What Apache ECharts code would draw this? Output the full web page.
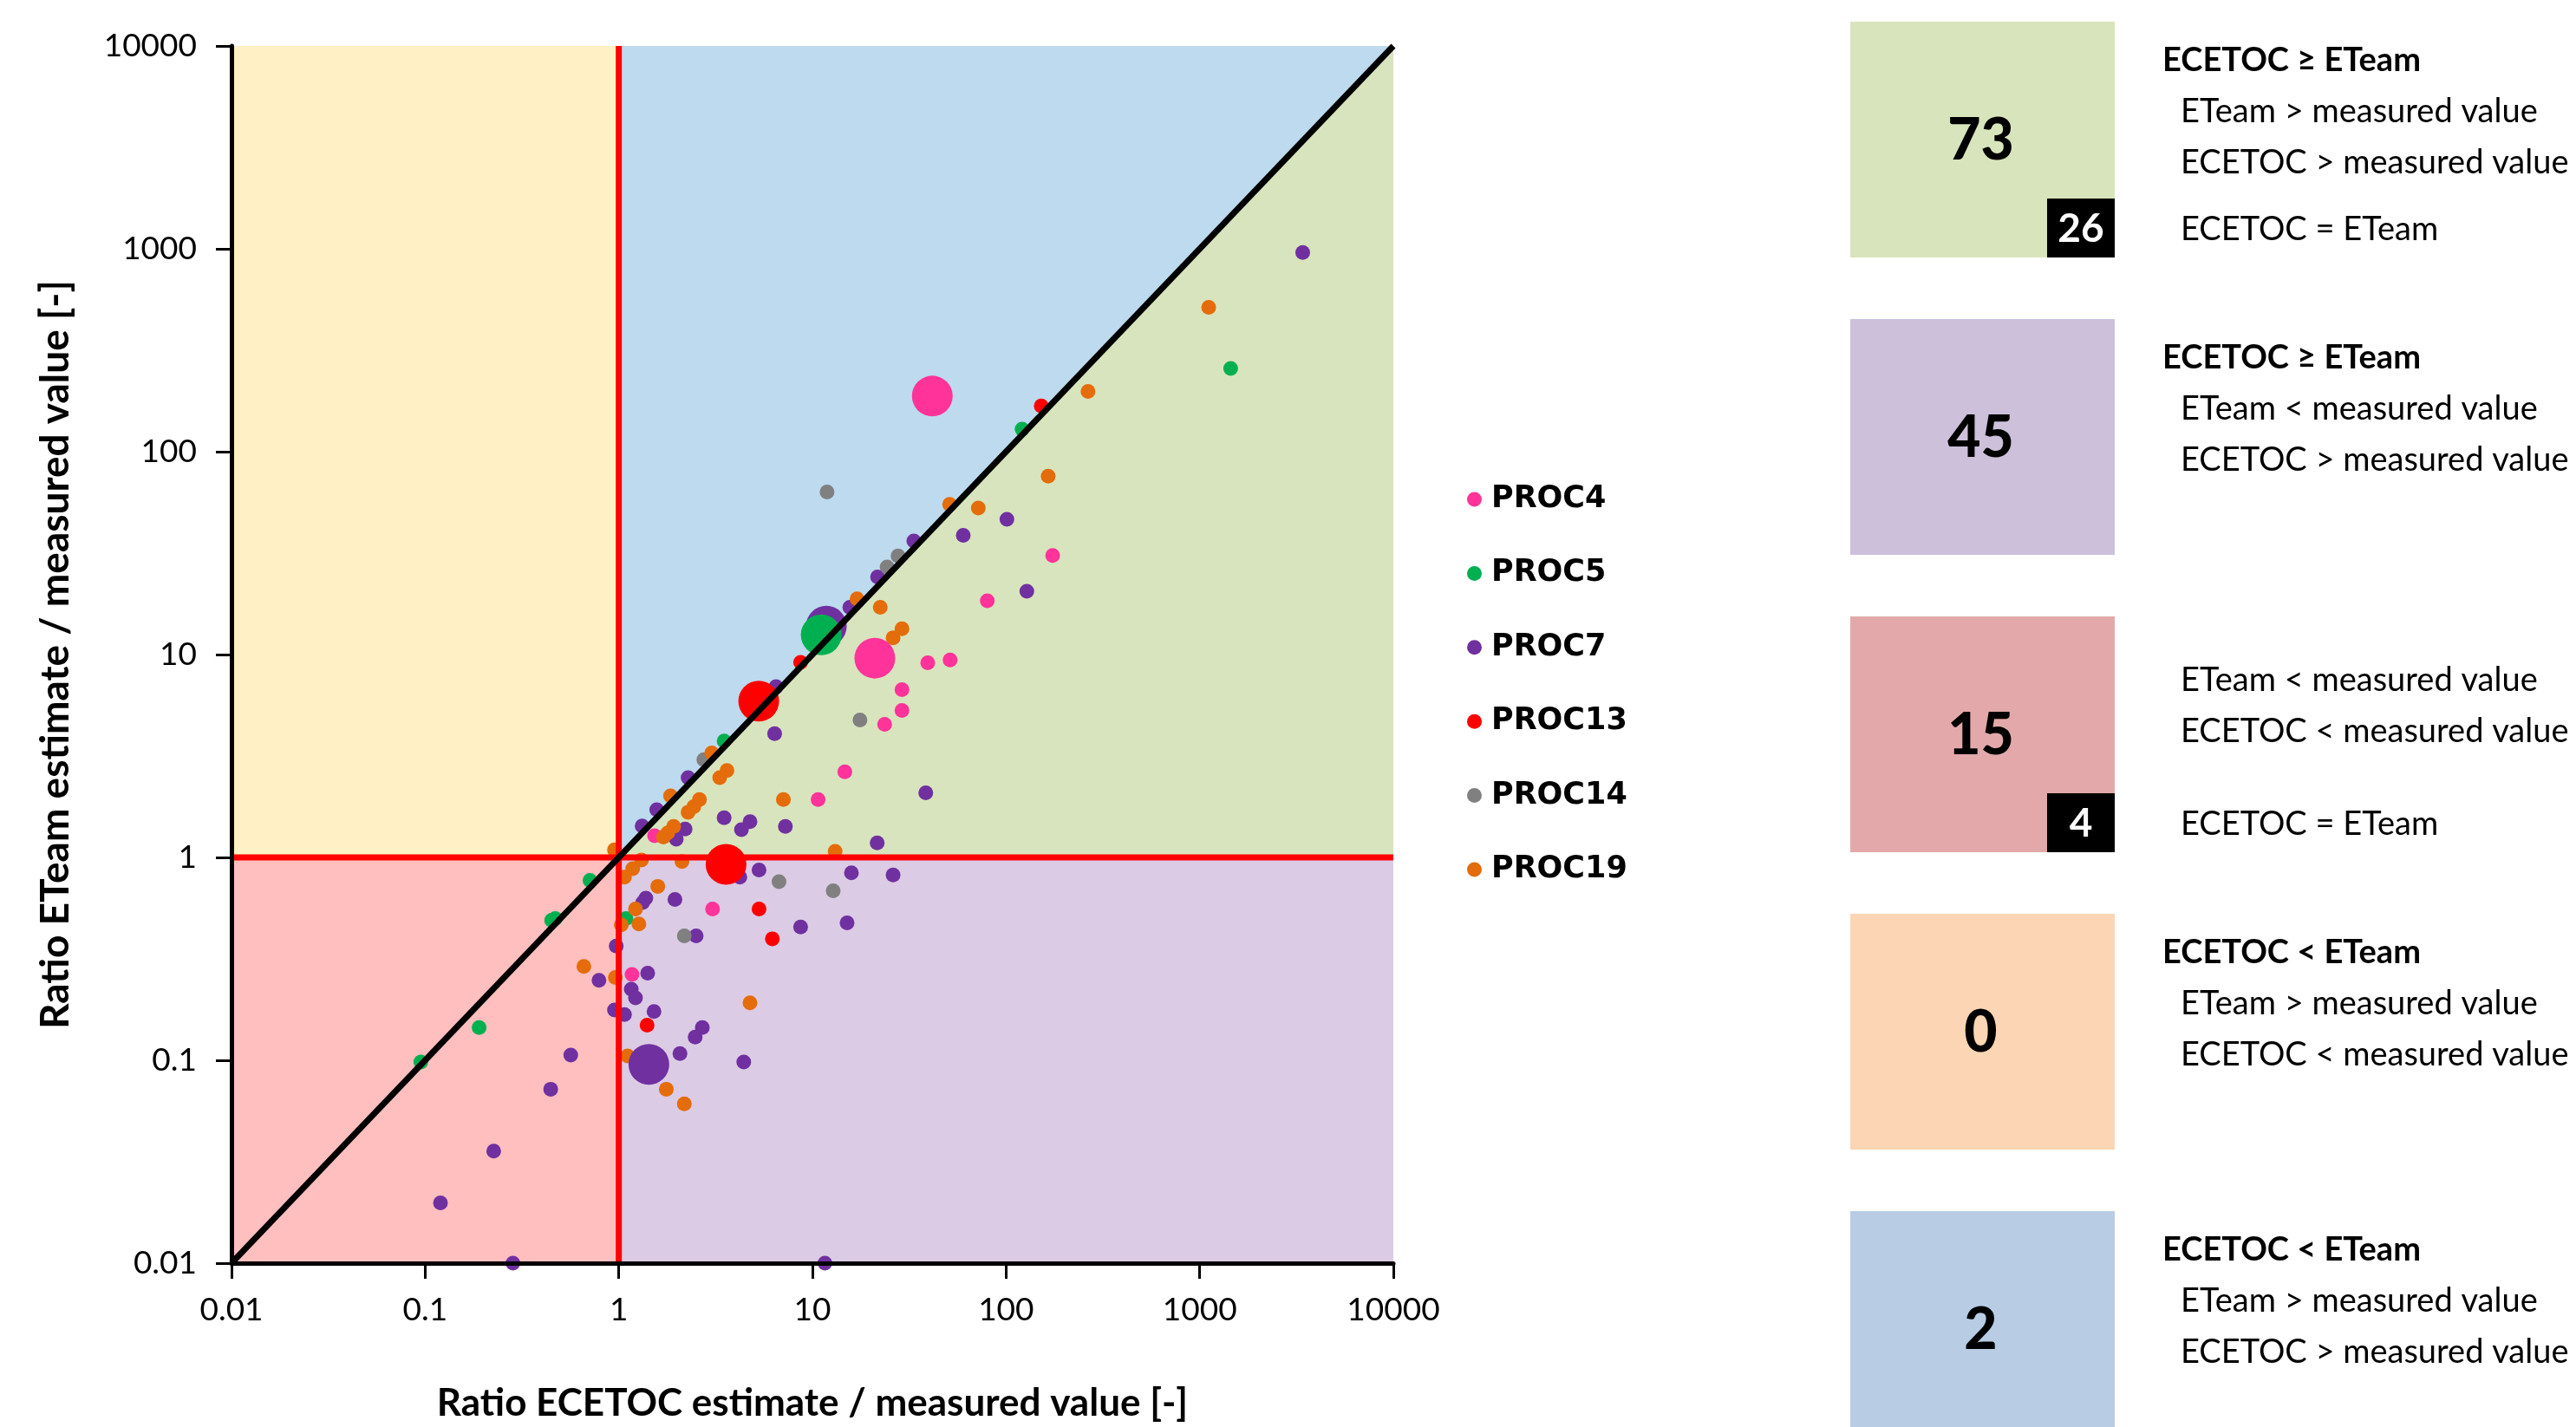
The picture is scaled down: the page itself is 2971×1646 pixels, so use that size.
<!DOCTYPE html>
<html><head><meta charset="utf-8">
<script src="https://cdn.jsdelivr.net/npm/echarts@6/dist/echarts.min.js"></script>
<style>html,body{margin:0;padding:0;background:#fff}#c{width:2971px;height:1646px}</style>
</head><body><div id="c"></div>
<script>
// ---------------- DATA ----------------
const seriesNames = ['PROC4', 'PROC5', 'PROC7', 'PROC13', 'PROC14', 'PROC19'];

// [ECETOC ratio, ETeam ratio]
const proc4 = [[3.05,0.557],[1.17,0.265],[1.53,1.28],[10.7,1.93],[14.7,2.64],[23.6,4.53],[29.0,5.30],[29.0,6.71],
  [39.4,9.1],[51.4,9.4],[80,18.4],[174,30.8]];
const proc5 = [[0.095,0.098],[0.19,0.145],[0.45,0.49],[0.47,0.50],[0.71,0.77],[1.09,0.50],[3.50,3.75],[121,129],[1445,257]];
const proc7 = [[1.38,0.63],[1.33,0.60],[1.95,0.62],[2.51,0.41],[0.97,0.366],[0.79,0.248],[1.41,0.269],[1.16,0.224],
  [1.22,0.203],[0.95,0.177],[1.07,0.168],[1.52,0.174],[2.70,0.145],[2.48,0.130],[0.565,0.106],[2.07,0.108],
  [0.445,0.072],[0.226,0.0357],[0.12,0.0198],[0.284,0.01],[4.22,0.80],[5.30,0.867],[21.6,1.18],[15.9,0.84],
  [26.1,0.82],[8.69,0.454],[15.1,0.476],[4.42,0.098],[11.6,0.01],[15.6,17.1],[6.49,6.94],[6.38,4.07],
  [2.28,2.47],[1.57,1.72],[1.32,1.43],[2.20,1.38],[1.98,1.23],[3.50,1.57],[4.76,1.50],[4.30,1.37],[7.25,1.42],
  [128,20.5],[38.5,2.08],[3404,959],[101,46.4],[60.1,38.7],[33.4,36.3],[21.7,24.1]];
const proc13 = [[1.40,0.149],[5.30,0.557],[6.21,0.397],[8.69,9.16],[152,168]];
const proc14 = [[2.18,0.41],[6.72,0.76],[12.8,0.684],[17.6,4.76],[2.75,3.03],[11.9,63.3],[27.7,30.6],[24.3,27.0]];
const proc19 = [[1.07,0.80],[1.18,0.88],[1.31,0.97],[1.59,0.72],[2.12,0.955],[1.22,0.557],[1.27,0.47],[1.03,0.465],
  [0.66,0.29],[0.96,0.256],[1.11,0.105],[1.76,0.072],[2.18,0.061],[4.76,0.192],[13.1,1.07],[17.0,18.8],[22.4,17.1],
  [3.02,3.27],[3.62,2.68],[3.32,2.47],[1.85,2.01],[2.61,1.93],[2.44,1.78],[2.28,1.67],[1.92,1.42],[1.79,1.32],
  [1.70,1.26],[7.08,1.93],[29.0,13.4],[26.1,12.1],[1113,515],[265,198],[165,75.8],[51.1,55.0],[71.9,52.8],[0.95,1.09]];

// large markers (summary points)
const proc4Big = [[41.6,188],[21,9.6]];
const proc5Big = [[11.1,12.5]];
const proc7Big = [[11.8,13.8],[1.43,0.0955]];
const proc13Big = [[5.28,5.89],[3.58,0.925]];

const axisTicks = [0.01, 0.1, 1, 10, 100, 1000, 10000];

// background regions (vertices in data units)
const regionPolygons = [
  [[0.01,1],[1,1],[1,10000],[0.01,10000]],
  [[1,1],[1,10000],[10000,10000]],
  [[1,1],[10000,10000],[10000,1]],
  [[0.01,0.01],[1,0.01],[1,1],[0.01,1]],
  [[1,0.01],[10000,0.01],[10000,1],[1,1]]
];
const diagonalLine = [[0.01,0.01],[10000,10000]];
const verticalLine = [[1,0.01],[1,10000]];
const horizontalLine = [[0.01,1],[10000,1]];

// right panel
const boxCounts = [73, 45, 15, 0, 2];
const boxEqualCounts = [26, null, 4, null, null];
const boxTitles = ['ECETOC \u2265 ETeam', 'ECETOC \u2265 ETeam', '', 'ECETOC < ETeam', 'ECETOC < ETeam'];
const boxLines = [
  ['ETeam > measured value', 'ECETOC > measured value'],
  ['ETeam < measured value', 'ECETOC > measured value'],
  ['ETeam < measured value', 'ECETOC < measured value'],
  ['ETeam > measured value', 'ECETOC < measured value'],
  ['ETeam > measured value', 'ECETOC > measured value']
];
const equalLabel = 'ECETOC = ETeam';

// ---------------- STYLE ----------------
const colors = ['#FF3399', '#00B050', '#7030A0', '#FF0000', '#808080', '#E46C0A'];
const regionColors = ['#FFF0C6', '#BDDAEE', '#D8E4BD', '#FFBFBF', '#DBCBE5'];
const boxColors = ['#D8E4BC', '#CCC0DA', '#E3A9AA', '#FCD5B4', '#B8CCE4'];
const FONT = 'Lato, "Open Sans", sans-serif';

const chart = echarts.init(document.getElementById('c'), null, {renderer: 'canvas'});

function fmtTick(v) {
  const e = Math.round(Math.log10(v));
  return e < 0 ? Math.pow(10, e).toFixed(-e) : String(Math.pow(10, e));
}

const smallData = [proc4, proc5, proc7, proc13, proc14, proc19];
const bigData = [proc4Big, proc5Big, proc7Big, proc13Big];
const bigColorIdx = [0, 1, 2, 3];
const bigOrder = [0, 2, 1, 3];

const series = [];
series.push({
  type: 'custom', name: 'regions', silent: true, z: 1,
  data: regionPolygons.map(p => p[0]),
  renderItem: function (params, api) {
    const pts = regionPolygons[params.dataIndex].map(pt => api.coord(pt));
    return {type: 'polygon', shape: {points: pts}, style: {fill: regionColors[params.dataIndex]}};
  }
});
smallData.forEach((d, i) => {
  series.push({
    type: 'scatter', name: seriesNames[i], data: d, symbol: 'circle', symbolSize: 17, z: 3,
    itemStyle: {color: colors[i], opacity: 1}
  });
});
bigOrder.forEach(k => {
  series.push({
    type: 'scatter', name: seriesNames[bigColorIdx[k]] + ' ', data: bigData[k], symbol: 'circle', symbolSize: 47, z: 4,
    itemStyle: {color: colors[bigColorIdx[k]], opacity: 1}
  });
});
series.push({type: 'line', name: 'x=1', data: verticalLine, symbol: 'none', z: 5, silent: true,
  lineStyle: {color: '#FF0000', width: 7}});
series.push({type: 'line', name: 'y=1', data: horizontalLine, symbol: 'none', z: 5, silent: true,
  lineStyle: {color: '#FF0000', width: 7}});
series.push({type: 'line', name: 'diag', data: diagonalLine, symbol: 'none', z: 6, silent: true,
  lineStyle: {color: '#000000', width: 7}});

// right panel graphics
const graphics = [];
const boxLeft = 2134, boxW = 305, boxH = 272, boxTop0 = 25, boxStep = 343;
const TXT = 38;
boxCounts.forEach((n, i) => {
  const top = boxTop0 + i * boxStep;
  graphics.push({type: 'rect', shape: {x: boxLeft, y: top, width: boxW, height: boxH}, style: {fill: boxColors[i]}});
  graphics.push({type: 'text', style: {text: String(n), x: boxLeft + boxW / 2 - 2, y: top + boxH / 2 + 2,
    font: '900 66px ' + FONT, fill: '#000', align: 'center', verticalAlign: 'middle', textAlign: 'center', textVerticalAlign: 'middle'}});
  if (boxEqualCounts[i] != null) {
    graphics.push({type: 'rect', shape: {x: boxLeft + boxW - 78, y: top + boxH - 68, width: 78, height: 68}, style: {fill: '#000'}});
    graphics.push({type: 'text', style: {text: String(boxEqualCounts[i]), x: boxLeft + boxW - 39, y: top + boxH - 33,
      font: 'bold 46px ' + FONT, fill: '#fff', align: 'center', verticalAlign: 'middle', textAlign: 'center', textVerticalAlign: 'middle'}});
    graphics.push({type: 'text', style: {text: equalLabel, x: 2515, y: top + 240,
      font: TXT + 'px ' + FONT, fill: '#000', align: 'left', verticalAlign: 'middle', textAlign: 'left', textVerticalAlign: 'middle'}});
  }
  const hasTitle = boxTitles[i] !== '';
  if (hasTitle) {
    graphics.push({type: 'text', style: {text: boxTitles[i], x: 2494, y: top + 45,
      font: 'bold 38px ' + FONT, fill: '#000', align: 'left', verticalAlign: 'middle', textAlign: 'left', textVerticalAlign: 'middle'}});
  }
  const l0 = hasTitle ? 104 : 74;
  boxLines[i].forEach((t, j) => {
    graphics.push({type: 'text', style: {text: t, x: 2515, y: top + l0 + j * 59,
      font: TXT + 'px ' + FONT, fill: '#000', align: 'left', verticalAlign: 'middle', textAlign: 'left', textVerticalAlign: 'middle'}});
  });
});

const axisCommon = {
  type: 'log', logBase: 10, min: 0.01, max: 10000, z: 10,
  splitLine: {show: false},
  axisLine: {show: true, onZero: false, lineStyle: {color: '#000', width: 5}},
  axisTick: {show: true, inside: false, length: 18, lineStyle: {color: '#000', width: 3}},
  minorTick: {show: false},
  nameLocation: 'middle'
};

chart.setOption({
  animation: false,
  backgroundColor: '#ffffff',
  grid: {left: 267, right: 1364, top: 53, bottom: 187, containLabel: false},
  legend: {
    data: seriesNames, orient: 'vertical', left: 1687, top: 551, icon: 'circle',
    itemWidth: 17, itemHeight: 17, itemGap: 45.4, selectedMode: false,
    textStyle: {fontFamily: '"DejaVu Sans", sans-serif', fontWeight: 'bold', fontSize: 35, color: '#000', lineHeight: 40, padding: [0, 0, 0, 6]}
  },
  xAxis: Object.assign({}, axisCommon, {
    name: 'Ratio ECETOC estimate / measured value [-]', nameGap: 140,
    nameTextStyle: {fontFamily: FONT, fontWeight: 'bold', fontSize: 44, color: '#000'},
    axisLabel: {fontFamily: FONT, fontSize: 37, color: '#000', margin: 36, formatter: fmtTick}
  }),
  yAxis: Object.assign({}, axisCommon, {
    name: 'Ratio ETeam estimate / measured value [-]', nameGap: 180,
    nameTextStyle: {fontFamily: FONT, fontWeight: 'bold', fontSize: 46, color: '#000'},
    axisLabel: {fontFamily: FONT, fontSize: 37, color: '#000', margin: 40, formatter: fmtTick}
  }),
  series: series,
  graphic: graphics
});
</script></body></html>
